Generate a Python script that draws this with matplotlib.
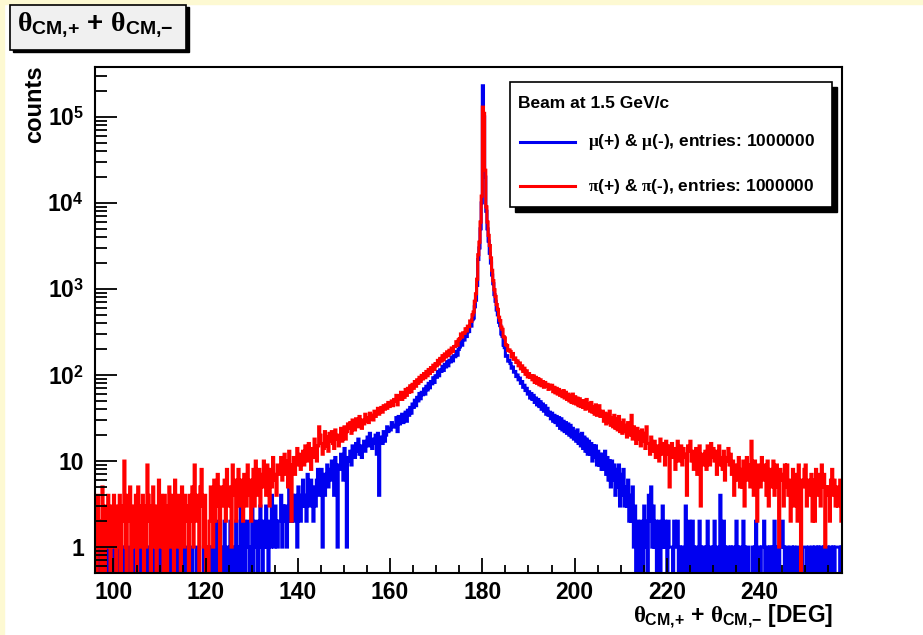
import numpy as np
import matplotlib
matplotlib.use('Agg')
import matplotlib.pyplot as plt
from matplotlib.patches import Rectangle
from matplotlib.lines import Line2D
from matplotlib.ticker import (FixedLocator, FixedFormatter, MultipleLocator,
                               LogLocator, NullFormatter)

plt.rcParams['font.family'] = ['Liberation Sans', 'DejaVu Sans']
plt.rcParams['font.weight'] = 'bold'
plt.rcParams['axes.labelweight'] = 'bold'
plt.rcParams['mathtext.fontset'] = 'custom'
plt.rcParams['mathtext.rm'] = 'Liberation Sans:bold'
plt.rcParams['mathtext.bf'] = 'Liberation Sans:bold'
plt.rcParams['mathtext.it'] = 'Liberation Serif'

# histogram range (deg), 0.25 deg bins
x_lo, x_hi = 96, 258

# counts per bin, one row = 5 degrees
mu_counts = [
    0,1,0,0, 1,0,0,1, 0,0,1,0, 1,0,0,1, 0,1,0,0,                        # 96
    1,0,0,1, 0,0,1,0, 0,1,0,0, 1,0,1,0, 0,0,1,0,                        # 101
    0,1,0,0, 1,0,0,1, 0,0,1,0, 0,1,0,1, 1,0,1,0,                        # 106
    1,0,1,1, 0,1,2,0, 1,0,1,1, 0,1,0,1, 1,0,1,1,                        # 111
    0,1,0,0, 1,0,0,0, 1,0,0,0, 0,0,1,0, 0,0,0,1,                        # 116
    0,1,1,0, 1,2,0,1, 0,1,1,0, 2,0,1,1, 0,2,1,0,                        # 121
    1,0,2,1, 0,1,3,0, 1,2,0,1, 2,1,0,1, 3,0,1,2,                        # 126
    2,0,1,3, 1,0,2,1, 3,1,0,2, 1,4,2,1, 3,2,1,2,                        # 131
    2,4,1,3, 2,3,1,2, 5,3,2,4, 2,4,3,1, 5,4,2,3,                        # 136
    6,3,4,2, 7,5,3,6, 4,2,5,3, 6,8,4,5, 8,1,7,4,                        # 141
    7,9,5,8, 6,10,8,4, 11,7,1,9, 8,12,10,6, 14,9,1,11,                  # 146
    10,13,9,15, 12,11,16,13, 18,12,15,11, 14,17,13,16, 19,15,21,17,     # 151
    14,18,16,20, 12,21,4,19, 18,16,22,17, 20,25,22,24, 23,28,25,26,     # 156
    25,32,22,33, 27,30,35,28, 34,37,29,39, 34,42,36,46, 42,51,44,55,    # 161
    50,61,53,63, 59,69,60,74, 67,80,71,84, 79,93,82,98, 94,110,98,115,  # 166
    110,126,113,133, 124,143,128,148, 142,162,146,168, 163,188,170,198, 212,245,222,258,
    255,292,280,318, 320,370,370,440, 460,620,740,1100, 2200,3000,5000,10000, 230000,100000,20000,8000,
    5000,3600,2600,2000, 1450,1150,860,720, 570,500,410,375, 300,282,222,208, 165,168,145,148,
    136,120,124,108, 110,96,100,88, 92,80,84,72, 76,66,70,60, 64,54,61,52,  # 186
    58,48,54,45, 52,43,49,40, 46,38,44,35, 41,34,37,31, 36,29,34,28,    # 191
    33,26,32,24, 31,23,29,22, 28,21,27,20, 26,19,24,18, 22,17,23,16,    # 196
    20,15,21,14, 19,13,18,12, 17,12,16,10, 15,11,15,9, 13,9,12,8,       # 201
    12,8,13,7, 11,6,10,5, 10,6,9,4, 8,5,9,3, 7,4,8,3,                   # 206
    5,3,6,2, 4,2,5,1, 3,0,2,1, 0,2,1,0, 3,1,2,0,                        # 211
    4,2,5,1, 3,1,2,0, 1,2,0,1, 3,1,2,1, 0,2,1,1,                        # 216
    1,0,2,1, 1,2,0,1, 0,1,1,0, 3,1,0,2, 1,0,2,1,                        # 221
    0,1,1,0, 2,1,0,1, 1,0,1,2, 0,1,1,0, 1,2,0,1,                        # 226
    1,0,4,1, 0,2,1,0, 1,1,0,1, 0,1,1,0, 2,1,0,1,                        # 231
    1,0,2,1, 0,1,1,0, 0,0,1,0, 1,2,0,1, 1,0,1,1,                        # 236
    2,0,1,1, 0,1,0,1, 0,2,1,0, 1,0,1,1, 2,1,0,1,                        # 241
    1,0,0,1, 1,0,1,0, 0,1,1,0, 0,0,1,1, 1,0,0,1,                        # 246
    0,0,1,0, 1,1,0,1, 0,1,1,0, 1,0,1,1, 0,1,1,0,                        # 251
    1,0,1,1, 1,1,0,1,                                                   # 256
]
pi_counts = [
    3,0,4,1, 2,0,5,2, 0,3,1,4, 2,0,3,1, 4,2,0,3,                        # 96
    1,4,0,2, 3,10,1,0, 4,2,5,0, 3,1,2,4, 0,5,3,1,                       # 101
    2,4,0,3, 1,9,4,2, 0,3,5,1, 3,0,2,6, 1,4,3,0,                        # 106
    4,2,0,3, 5,1,2,4, 0,6,3,1, 4,2,0,5, 3,1,4,2,                        # 111
    3,0,4,2, 5,1,9,3, 2,4,0,5, 8,3,1,4, 0,1,0,2,                        # 116
    5,3,1,6, 2,4,7,3, 0,5,3,4, 6,2,8,4, 3,5,1,9,                        # 121
    4,6,2,5, 8,3,6,4, 2,7,5,3, 9,4,6,2, 5,8,3,10,                       # 126
    6,4,8,3, 7,5,10,6, 4,9,6,3, 8,5,11,7, 6,4,9,7,                      # 131
    8,11,6,9, 12,7,10,5, 13,8,2,9, 11,7,10,14, 9,12,8,11,               # 136
    13,9,15,11, 10,16,12,8, 14,11,18,12, 10,15,25,20, 16,12,14,22,      # 141
    15,19,13,21, 17,22,16,14, 23,18,20,15, 19,24,17,21, 25,18,22,27,    # 146
    24,28,21,30, 26,23,31,27, 25,33,28,24, 30,27,35,29, 32,28,36,31,    # 151
    34,30,38,33, 36,41,35,39, 42,37,44,40, 45,41,48,43, 46,50,44,52,    # 156
    50,58,45,57, 53,63,52,62, 55,68,58,70, 63,75,64,78, 70,84,74,88,    # 161
    80,94,84,99, 90,104,93,110, 98,116,104,122, 110,130,116,136, 128,148,134,156,
    145,168,150,176, 162,186,168,194, 180,206,188,214, 215,244,222,256, 265,300,276,310,
    305,345,325,370, 365,425,420,500, 540,720,880,1300, 2500,3500,6000,12000, 130000,110000,24000,9000,
    6000,4200,3200,2300, 1650,1250,980,820, 660,580,470,430, 360,340,280,270, 225,220,192,196,
    188,162,178,152, 158,140,146,128, 138,118,128,110, 120,102,112,95, 104,94,98,88,  # 186
    98,82,94,80, 91,77,88,75, 84,72,82,74, 78,68,76,70, 76,64,72,62,    # 191
    70,60,68,58, 64,56,66,54, 63,52,60,50, 58,48,60,47, 56,46,54,44,    # 196
    53,43,50,42, 50,40,52,41, 46,38,48,37, 43,35,45,34, 40,44,33,38,    # 201
    38,29,36,27, 35,28,38,26, 32,25,34,24, 31,23,33,22, 28,21,30,22,    # 206
    26,19,28,20, 24,34,18,25, 23,16,24,18, 22,15,23,17, 21,14,25,16,    # 211
    16,12,19,14, 13,17,11,15, 14,10,18,12, 16,13,9,17, 12,15,5,14,      # 216
    16,11,14,8, 13,17,10,12, 15,9,14,11, 12,4,15,13, 17,10,13,8,        # 221
    11,14,7,13, 15,3,12,9, 10,13,8,15, 12,9,16,11, 14,10,13,7,          # 226
    12,15,9,11, 8,13,6,10, 11,14,9,12, 7,10,4,9, 9,6,11,5,              # 231
    8,5,10,3, 7,11,6,9, 5,17,8,4, 10,6,2,9, 8,5,11,7,                   # 236
    6,9,4,10, 3,8,6,5, 10,4,7,9, 5,1,8,6, 7,3,9,5,                      # 241
    9,4,6,2, 5,8,3,7, 6,2,9,4, 0,6,5,8, 9,3,6,4,                        # 246
    5,7,2,6, 2,8,4,7, 6,3,9,5, 7,1,5,4, 5,2,6,8,                        # 251
    4,6,3,5, 3,4,6,2,                                                   # 256
]
n_entries = 1000000
beam_label = 'Beam at 1.5 GeV/c'
y_major_ticks = [1, 10, 1e2, 1e3, 1e4, 1e5]
y_tick_labels = ['1', '10', r'$10^{2}$', r'$10^{3}$', r'$10^{4}$', r'$10^{5}$']
theta_sum = r'$\theta_{\mathrm{CM{,}{+}}}$ + $\theta_{\mathrm{CM{,}{-}}}$'

edges = np.linspace(x_lo, x_hi, len(pi_counts) + 1)

W, H = 923, 635
fig = plt.figure(figsize=(W / 100, H / 100), dpi=100)
fig.patch.set_facecolor('white')

# pale yellow page border (top/left)
fig.patches.append(Rectangle((0, 1 - 4 / H), 1, 4 / H, transform=fig.transFigure,
                             color='#fdf9d2', zorder=0))
fig.patches.append(Rectangle((0, 0), 4 / W, 1, transform=fig.transFigure,
                             color='#fdf9d2', zorder=0))

ax = fig.add_axes([95 / W, 62 / H, 747 / W, 506 / H])
ax.set_yscale('log', nonpositive='clip')
ax.stairs(mu_counts, edges, color='#0000f0', lw=2.2, baseline=None)
ax.stairs(pi_counts, edges, color='#ff0000', lw=2.2, baseline=None)

ax.set_xlim(x_lo, x_hi)
ax.set_ylim(0.5, 3.8e5)
ax.xaxis.set_major_locator(MultipleLocator(20))
ax.xaxis.set_minor_locator(MultipleLocator(5))
ax.yaxis.set_major_locator(FixedLocator(y_major_ticks))
ax.yaxis.set_major_formatter(FixedFormatter(y_tick_labels))
ax.yaxis.set_minor_locator(LogLocator(base=10, subs=np.arange(2, 10), numticks=20))
ax.yaxis.set_minor_formatter(NullFormatter())
ax.tick_params(which='both', direction='in', top=False, right=False, width=1.3)
ax.tick_params(axis='x', which='major', length=11, labelsize=16.5, pad=6)
ax.tick_params(axis='x', which='minor', length=6)
ax.tick_params(axis='y', which='major', length=16, labelsize=16.5, pad=8)
ax.tick_params(axis='y', which='minor', length=8.5)
for s in ax.spines.values():
    s.set_linewidth(1.5)

ax.set_ylabel('counts', fontsize=17, fontweight='bold', loc='top')
ax.yaxis.set_label_coords(-0.066, 1.004)
ax.set_xlabel(theta_sum + ' [DEG]', fontsize=16.5, fontweight='bold', loc='right')
ax.xaxis.set_label_coords(0.988, -0.058)

# title box with shadow
fig.patches.append(Rectangle((13 / W, 1 - 52 / H), 176 / W, 45 / H,
                             transform=fig.transFigure, color='black', zorder=3))
fig.patches.append(Rectangle((10 / W, 1 - 50 / H), 176 / W, 45 / H,
                             transform=fig.transFigure, facecolor='#f0f0f0',
                             edgecolor='black', lw=1.2, zorder=4))
fig.text(17 / W, 1 - 25 / H, theta_sum, fontsize=20, va='center', ha='left', zorder=5)

# legend box with shadow
fig.patches.append(Rectangle((515 / W, 1 - 212 / H), 322 / W, 125 / H,
                             transform=fig.transFigure, color='black', zorder=3))
fig.patches.append(Rectangle((510 / W, 1 - 207 / H), 322 / W, 125 / H,
                             transform=fig.transFigure, facecolor='white',
                             edgecolor='black', lw=1.2, zorder=4))
fig.text(518 / W, 1 - 103 / H, beam_label, fontsize=12.5, va='center', ha='left', zorder=5)
entries = [(r'$\mu$(+) & $\mu$(-), entries: %d' % n_entries, '#0000f0', 142),
           (r'$\pi$(+) & $\pi$(-), entries: %d' % n_entries, '#ff0000', 186)]
for label, col, ypx in entries:
    fig.add_artist(Line2D([520 / W, 575 / W], [1 - ypx / H, 1 - ypx / H],
                          color=col, lw=2.2, zorder=5))
    fig.text(588 / W, 1 - ypx / H, label, fontsize=12.5, va='center', ha='left', zorder=5)

fig.savefig('out.png', dpi=100)
